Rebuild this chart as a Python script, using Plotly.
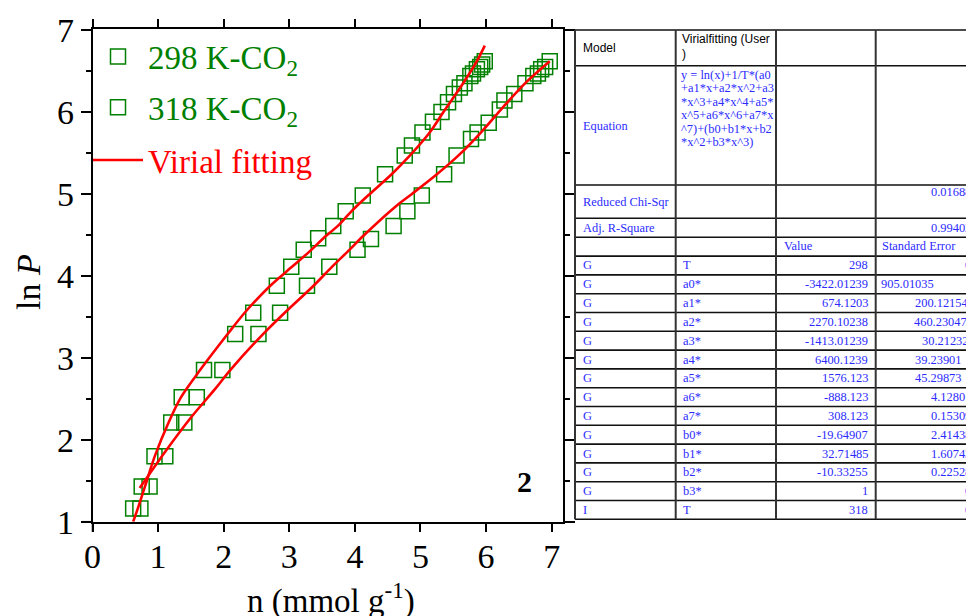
import plotly.graph_objects as go

W, H = 966, 616

# ---------------- data ----------------
n_298 = [0.73, 0.87, 1.11, 1.40, 1.59, 1.98, 2.53, 2.86, 3.27, 3.61, 4.04, 4.245, 4.59, 4.80,
         5.02, 5.36, 5.55, 5.77, 5.87, 6.04, 6.21, 6.28, 6.43, 6.60, 6.72, 6.79, 6.84, 6.90, 6.97]
lnp_298 = [1.16, 1.43, 1.80, 2.21, 2.52, 2.85, 3.29, 3.55, 3.88, 4.11, 4.32, 4.45, 4.61, 4.79,
           4.98, 5.24, 5.47, 5.67, 5.75, 5.87, 6.03, 6.14, 6.22, 6.35, 6.44, 6.47, 6.52, 6.55, 6.62]

n_318 = [0.62, 0.75, 0.945, 1.20, 1.36, 1.70, 2.175, 2.45, 2.81, 3.03, 3.22, 3.44, 3.67, 3.86,
         4.12, 4.46, 4.76, 4.87, 5.03, 5.19, 5.32, 5.42, 5.51, 5.60, 5.67, 5.76, 5.80, 5.86,
         5.91, 5.94, 5.98]
lnp_318 = [1.16, 1.43, 1.80, 2.21, 2.52, 2.85, 3.29, 3.55, 3.88, 4.11, 4.32, 4.46, 4.61, 4.79,
           4.98, 5.24, 5.47, 5.59, 5.75, 5.88, 6.00, 6.12, 6.22, 6.30, 6.35, 6.44, 6.47, 6.52,
           6.55, 6.58, 6.62]

fit_n_298 = [0.72, 1.105, 1.51, 1.87, 2.10, 2.60, 2.93, 3.37, 3.65, 3.92, 4.13, 4.64, 4.87,
             5.25, 5.58, 5.91, 6.26, 6.62, 6.97]
fit_lnp_298 = [1.41, 1.85, 2.28, 2.62, 2.85, 3.29, 3.55, 3.88, 4.11, 4.32, 4.49, 4.86, 5.00,
               5.24, 5.47, 5.74, 6.06, 6.37, 6.62]

fit_n_318 = [0.62, 0.69, 0.80, 0.95, 1.16, 1.35, 1.64, 2.06, 2.32, 2.71, 3.04, 3.34, 3.52,
             3.74, 3.95, 4.20, 4.56, 4.84, 5.14, 5.35, 5.65, 5.86, 5.98]
fit_lnp_318 = [1.00, 1.16, 1.43, 1.80, 2.21, 2.52, 2.85, 3.29, 3.55, 3.88, 4.11, 4.32, 4.46,
               4.61, 4.79, 4.98, 5.24, 5.47, 5.75, 6.00, 6.35, 6.62, 6.81]

x_ticks = [0, 1, 2, 3, 4, 5, 6, 7]
y_ticks = [1, 2, 3, 4, 5, 6, 7]

# table contents
eq_lines = ["y = ln(x)+1/T*(a0", "+a1*x+a2*x^2+a3", "*x^3+a4*x^4+a5*",
            "x^5+a6*x^6+a7*x", "^7)+(b0+b1*x+b2", "*x^2+b3*x^3)"]
model_name = ["Virialfitting (User", ")"]
chi_sqr = "0.01688"
adj_r2 = "0.99402"
param_groups = ["G"] * 13 + ["I"]
param_names = ["T", "a0*", "a1*", "a2*", "a3*", "a4*", "a5*", "a6*", "a7*",
               "b0*", "b1*", "b2*", "b3*", "T"]
param_values = ["298", "-3422.01239", "674.1203", "2270.10238", "-1413.01239", "6400.1239",
                "1576.123", "-888.123", "308.123", "-19.64907", "32.71485", "-10.33255", "1", "318"]
param_errors = ["0", "905.01035", "200.12154", "460.23047", "30.21232", "39.23901", "45.29873",
                "4.12801", "0.15309", "2.41438", "1.60743", "0.22528", "0", "0"]

# ---------------- styles / layout helpers ----------------
GREEN = "#008000"
RED = "#ff0000"
BLUE = "#2b2bff"
SERIF = "Liberation Serif"
SANS = "Liberation Sans"


def px(x):
    return x / W


def py(y):
    return 1 - y / H


fig = go.Figure()
mk = dict(symbol="square-open", size=15, color=GREEN, line=dict(width=1.5, color=GREEN))
fig.add_trace(go.Scatter(x=n_298, y=lnp_298, mode="markers", marker=mk, legendgroup="a",
                         legend="legend",
                         name="<span style='color:#008000'>298 K-CO<sub>2</sub></span>"))
fig.add_trace(go.Scatter(x=n_318, y=lnp_318, mode="markers", marker=mk, legendgroup="b",
                         legend="legend",
                         name="<span style='color:#008000'>318 K-CO<sub>2</sub></span>"))
fig.add_trace(go.Scatter(x=fit_n_298, y=fit_lnp_298, mode="lines", legendgroup="c",
                         legend="legend2",
                         line=dict(color=RED, width=2.6, shape="spline", smoothing=0.9),
                         name="<span style='color:#ff0000'>Virial fitting</span>"))
fig.add_trace(go.Scatter(x=fit_n_318, y=fit_lnp_318, mode="lines", legendgroup="c",
                         legend="legend2",
                         line=dict(color=RED, width=2.6, shape="spline", smoothing=0.9),
                         showlegend=False))

axis_common = dict(showline=True, linecolor="black", linewidth=1.5, mirror="allticks",
                   ticks="outside", tickwidth=1.5, tickcolor="black", showgrid=False,
                   zeroline=False, automargin=False,
                   tickfont=dict(family=SERIF, size=34, color="black"))

legend_common = dict(xanchor="left", yanchor="top", bgcolor="rgba(0,0,0,0)", borderwidth=0,
                     itemwidth=50, font=dict(family=SERIF, size=33))

fig.update_layout(
    width=W, height=H, margin=dict(l=0, r=0, t=0, b=0),
    paper_bgcolor="white", plot_bgcolor="white",
    xaxis=dict(domain=[px(92.5), px(563.3)], range=[0, 7.177], tickvals=x_ticks,
               ticklen=9, ticklabelstandoff=-5, **axis_common),
    yaxis=dict(domain=[py(521.7), py(29.3)], range=[1, 7.009], tickvals=y_ticks, ticklen=10,
               minor=dict(dtick=0.5, tick0=0, ticks="outside", ticklen=5, tickwidth=1.5,
                          tickcolor="black", showgrid=False),
               **axis_common),
    showlegend=True,
    legend=dict(x=px(88), y=py(28.5), tracegroupgap=5, **legend_common),
    legend2=dict(x=px(88), y=py(132), **legend_common),
)

ann = []
# axis titles
ann.append(dict(text="n (mmol g<sup>-1</sup>)", x=px(331), y=py(598), xref="paper", yref="paper",
                showarrow=False, xanchor="center", yanchor="middle",
                font=dict(family=SERIF, size=33, color="black")))
ann.append(dict(text="ln <i>P</i>", x=px(28), y=py(282), xref="paper", yref="paper",
                showarrow=False, textangle=-90, xanchor="center", yanchor="middle",
                font=dict(family=SERIF, size=34, color="black")))
ann.append(dict(text="<b>2</b>", x=px(524), y=py(481), xref="paper", yref="paper",
                showarrow=False, xanchor="center", yanchor="middle",
                font=dict(family=SERIF, size=30, color="black")))

shapes = []
# Origin-style axis overhang at the origin corner
shapes.append(dict(type="line", xref="paper", yref="paper", x0=px(82), x1=px(92.5),
                   y0=py(521.7), y1=py(521.7), line=dict(color="black", width=1.5)))
shapes.append(dict(type="line", xref="paper", yref="paper", x0=px(92.5), x1=px(92.5),
                   y0=py(521.7), y1=py(532), line=dict(color="black", width=1.5)))

# ---------------- table ----------------
TX0, TX1, TX2, TX3, TXR = 575, 675.7, 776, 875.7, 970
row_top = 237.3
row_h = 18.8
h_lines = [30, 65.7, 185, 218.3, 237.3] + [row_top + row_h * (i + 1) for i in range(15)]
for yy in h_lines:
    shapes.append(dict(type="line", xref="paper", yref="paper", x0=px(TX0), x1=px(TXR),
                       y0=py(yy), y1=py(yy), line=dict(color="#111111", width=1.6)))
for xx in [TX0, TX1, TX2, TX3]:
    shapes.append(dict(type="line", xref="paper", yref="paper", x0=px(xx), x1=px(xx),
                       y0=py(30), y1=py(h_lines[-1]), line=dict(color="#333333", width=2)))


def t(text, x, y, anchor="left", color=BLUE, family=SERIF, size=12.4):
    ann.append(dict(text=text, x=px(x), y=py(y), xref="paper", yref="paper", showarrow=False,
                    xanchor=anchor, yanchor="middle",
                    font=dict(family=family, size=size, color=color)))


t("Model", 581, 48, color="black", family=SANS, size=12)
t(model_name[0], 680, 39, color="black", family=SANS, size=12)
t(model_name[1], 680, 53.5, color="black", family=SANS, size=12)
t("Equation", 581, 125.5)
for i, line in enumerate(eq_lines):
    t(line, 679, 75 + i * 13.45)
t("Reduced Chi-Sqr", 581, 201.5)
t(chi_sqr, 929, 191.5)
t("Adj. R-Square", 581, 228)
t(adj_r2, 929, 228)
t("Value", 781.5, 246)
t("Standard Error", 880, 246)
err_x = [963, 879, 912.7, 911.7, 920, 913.3, 912.7, 929, 929, 929, 929, 929, 963, 963]
for i in range(len(param_names)):
    yc = row_top + row_h * (i + 1) + row_h / 2
    t(param_groups[i], 581, yc)
    t(param_names[i], 681, yc)
    t(param_values[i], 870, yc, anchor="right")
    t(param_errors[i], err_x[i], yc)

fig.update_layout(annotations=ann, shapes=shapes)
fig.write_html("out.html")
